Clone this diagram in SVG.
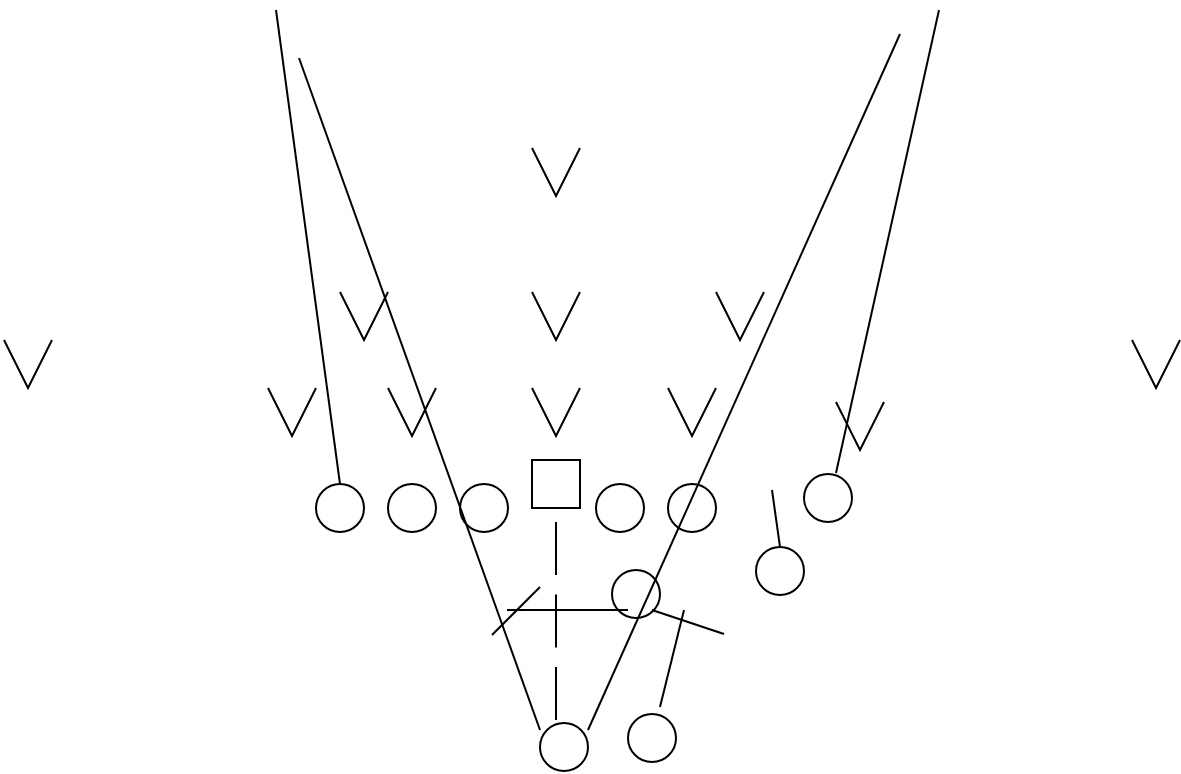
<svg xmlns="http://www.w3.org/2000/svg" width="1181" height="774" viewBox="0 0 1181 774">
<style>
.s{fill:none;stroke:#000;stroke-width:2}
</style>
<rect width="1181" height="774" fill="#fff"/>
<g id="defense" class="s">
<polyline id="d1" points="532,148 556,196 580,148"/>
<polyline id="d2" points="340,292 364,340 388,292"/>
<polyline id="d3" points="532,292 556,340 580,292"/>
<polyline id="d4" points="716,292 740,340 764,292"/>
<polyline id="d5" points="4,340 28,388 52,340"/>
<polyline id="d6" points="1132,340 1156,388 1180,340"/>
<polyline id="d7" points="268,388 292,436 316,388"/>
<polyline id="d8" points="388,388 412,436 436,388"/>
<polyline id="d9" points="532,388 556,436 580,388"/>
<polyline id="d10" points="668,388 692,436 716,388"/>
<polyline id="d11" points="836,402 860,450 884,402"/>
</g>
<g id="offense" class="s">
<circle id="o1" cx="340" cy="508" r="24"/>
<circle id="o2" cx="412" cy="508" r="24"/>
<circle id="o3" cx="484" cy="508" r="24"/>
<rect id="center" x="532" y="460" width="48" height="48"/>
<circle id="o4" cx="620" cy="508" r="24"/>
<circle id="o5" cx="692" cy="508" r="24"/>
<circle id="o6" cx="828" cy="498" r="24"/>
<circle id="o7" cx="780" cy="571" r="24"/>
<circle id="o8" cx="636" cy="594" r="24"/>
<circle id="o9" cx="564" cy="747" r="24"/>
<circle id="o10" cx="652" cy="738" r="24"/>
</g>
<g id="connectors" class="s">
<line x1="276" y1="10" x2="340" y2="484"/>
<line x1="299" y1="58" x2="540" y2="730"/>
<line x1="900" y1="34" x2="588" y2="730"/>
<line x1="939" y1="10" x2="836" y2="473"/>
<line x1="772" y1="490" x2="780" y2="547"/>
<line x1="556" y1="522" x2="556" y2="720" stroke-dasharray="53 19.5"/>
<line x1="507" y1="610" x2="628" y2="610"/>
<line x1="492" y1="635" x2="540" y2="587"/>
<line x1="652" y1="610" x2="724" y2="634"/>
<line x1="684" y1="610" x2="660" y2="707"/>
</g>
</svg>
